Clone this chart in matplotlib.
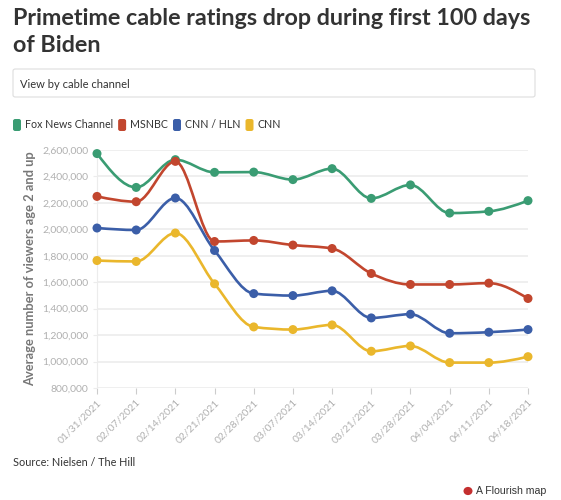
import numpy as np
import matplotlib.pyplot as plt
from matplotlib.path import Path
from matplotlib.patches import PathPatch, FancyBboxPatch
from matplotlib.ticker import FuncFormatter

plt.rcParams['font.family'] = ['Lato', 'DejaVu Sans']

# Data
dates = ['01/31/2021', '02/07/2021', '02/14/2021', '02/21/2021', '02/28/2021', '03/07/2021',
         '03/14/2021', '03/21/2021', '03/28/2021', '04/04/2021', '04/11/2021', '04/18/2021']
fox = [2573000, 2317000, 2527000, 2431000, 2433000, 2376000,
       2459000, 2234000, 2336000, 2123000, 2136000, 2217000]
msnbc = [2249000, 2209000, 2514000, 1908000, 1916000, 1881000,
         1855000, 1666000, 1583000, 1583000, 1593000, 1477000]
cnn_hln = [2010000, 1995000, 2237000, 1840000, 1514000, 1499000,
           1535000, 1330000, 1358000, 1214000, 1222000, 1242000]
cnn = [1764000, 1757000, 1972000, 1588000, 1262000, 1242000,
       1277000, 1078000, 1118000, 992000, 992000, 1037000]

series = ['Fox News Channel', 'MSNBC', 'CNN / HLN', 'CNN']
colors = ['#3a9c73', '#c2462e', '#3b5ea8', '#eab72c']


def monotone_path(x, y):
    # same idea as d3.curveMonotoneX, drawn as cubic bezier segments
    x = np.asarray(x, float)
    y = np.asarray(y, float)
    n = len(x)
    s = np.diff(y) / np.diff(x)
    m = np.zeros(n)
    for i in range(1, n - 1):
        h0, h1 = x[i] - x[i - 1], x[i + 1] - x[i]
        p = (s[i - 1] * h1 + s[i] * h0) / (h0 + h1)
        m[i] = (np.sign(s[i - 1]) + np.sign(s[i])) * min(abs(s[i - 1]), abs(s[i]), 0.5 * abs(p))
    m[0] = (3 * s[0] - m[1]) / 2
    m[-1] = (3 * s[-1] - m[-2]) / 2
    verts = [(x[0], y[0])]
    codes = [Path.MOVETO]
    for i in range(n - 1):
        h = (x[i + 1] - x[i]) / 3
        verts += [(x[i] + h, y[i] + m[i] * h), (x[i + 1] - h, y[i + 1] - m[i + 1] * h), (x[i + 1], y[i + 1])]
        codes += [Path.CURVE4] * 3
    return Path(verts, codes)


W, H = 561, 500
fig = plt.figure(figsize=(W / 100, H / 100), dpi=100)
ax = fig.add_axes([97 / W, 1 - 388 / H, (528 - 97) / W, (388 - 150) / H])

xs = np.arange(len(dates))
for name, vals, c in zip(series, [fox, msnbc, cnn_hln, cnn], colors):
    ax.add_patch(PathPatch(monotone_path(xs, vals), facecolor='none', edgecolor=c, lw=1.9,
                           capstyle='round', joinstyle='round', clip_on=False, zorder=3))
    ax.scatter(xs, vals, s=42, color=c, zorder=4, clip_on=False, edgecolors='none')

ax.set_xlim(0, len(dates) - 1)
ax.set_ylim(800000, 2600000)
ax.set_yticks(np.arange(800000, 2600001, 200000))
ax.yaxis.set_major_formatter(FuncFormatter(lambda v, p: f'{int(v):,}'))
ax.set_xticks(xs)
ax.set_xticklabels(dates, rotation=45, ha='right', rotation_mode='anchor')
ax.grid(axis='y', color='#ececec', lw=1.2)
ax.set_axisbelow(True)
for sp in ['top', 'right', 'bottom']:
    ax.spines[sp].set_visible(False)
ax.spines['left'].set_color('#ececec')
ax.tick_params(axis='y', length=3, color='#ececec', labelcolor='#b0b0b0', labelsize=7.5, pad=3)
ax.tick_params(axis='x', length=4, color='#cccccc', labelcolor='#b0b0b0', labelsize=7.5, pad=3)
ax.set_ylabel('Average number of viewers age 2 and up', color='#777777', fontsize=9.3,
              fontweight='bold')
ax.yaxis.set_label_coords(-0.1415, 0.5)

# title and header
fig.text(13 / W, 1 - 25 / H, 'Primetime cable ratings drop during first 100 days',
         ha='left', va='baseline', fontsize=16.8, fontweight='bold', color='#333333')
fig.text(13 / W, 1 - 52 / H, 'of Biden',
         ha='left', va='baseline', fontsize=16.8, fontweight='bold', color='#333333')
box = FancyBboxPatch((13 / W, 1 - 97 / H), (535 - 13) / W, 28 / H,
                     boxstyle='round,pad=0,rounding_size=0.004', transform=fig.transFigure,
                     facecolor='white', edgecolor='#dddddd', lw=0.8)
fig.patches.append(box)
fig.text(20 / W, 1 - 85 / H, 'View by cable channel', ha='left', va='center',
         fontsize=8.0, color='#333333')

# legend
lx = 13
for name, c in zip(series, colors):
    fig.patches.append(FancyBboxPatch((lx / W, 1 - 131 / H), 8 / W, 12 / H,
                                      boxstyle='round,pad=0,rounding_size=0.004',
                                      transform=fig.transFigure, facecolor=c, edgecolor='none'))
    t = fig.text((lx + 12) / W, 1 - 125 / H, name, ha='left', va='center',
                 fontsize=7.7, color='#333333')
    fig.canvas.draw()
    bb = t.get_window_extent()
    lx = bb.x1 + 5

fig.text(13 / W, 1 - 463 / H, 'Source: Nielsen / The Hill', ha='left', va='center',
         fontsize=7.85, color='#333333')
fig.text(546 / W, 1 - 491 / H, 'A Flourish map', ha='right', va='center',
         fontsize=7.6, color='#333333', family=['Liberation Sans'])
fig.patches.append(plt.Circle((468 / W, 1 - 491 / H), 3.8 / W, transform=fig.transFigure,
                              color='#c42f2f'))

fig.savefig('out.png', dpi=100)
